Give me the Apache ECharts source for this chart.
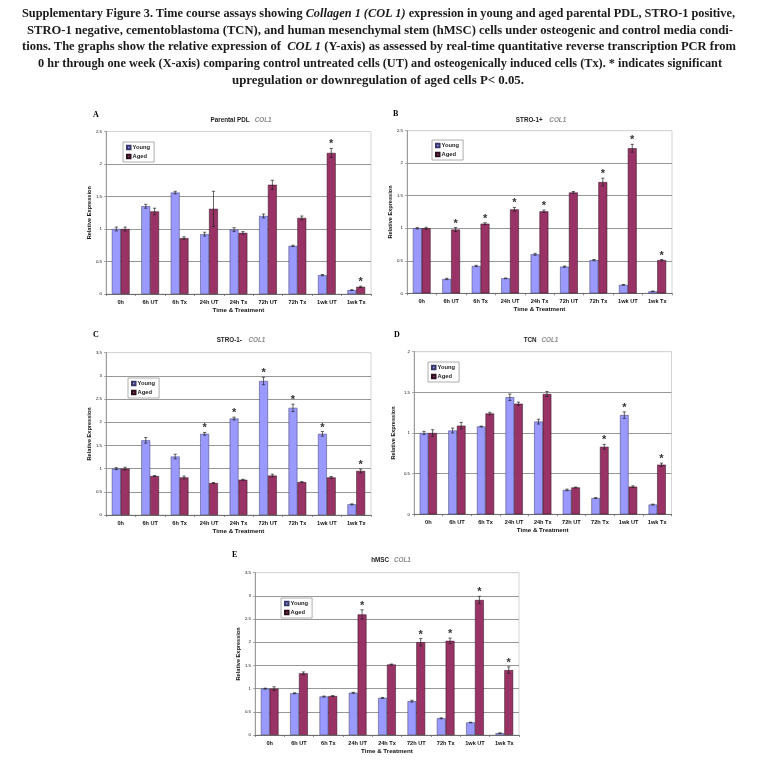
<!DOCTYPE html>
<html>
<head>
<meta charset="utf-8">
<script src="https://cdn.jsdelivr.net/npm/echarts@6/dist/echarts.min.js"></script>
<style>
html,body{margin:0;padding:0;background:#fff;}
#chart{position:absolute;left:0;top:0;width:758px;height:768px;}
.cap{position:absolute;white-space:nowrap;font-family:"Liberation Serif","DejaVu Serif",serif;font-weight:bold;font-size:12.5px;color:#1a1a1a;transform-origin:0 50%;line-height:14px;}
</style>
</head>
<body>
<div id="chart"></div>
<div class="cap" data-x0="22" data-x1="735" data-y="13">Supplementary Figure 3. Time course assays showing <i>Collagen 1 (COL 1)</i> expression in young and aged parental PDL, STRO-1 positive,</div>
<div class="cap" data-x0="27" data-x1="733" data-y="30">STRO-1 negative, cementoblastoma (TCN), and human mesenchymal stem (hMSC) cells under osteogenic and control media condi-</div>
<div class="cap" data-x0="22" data-x1="736" data-y="46">tions. The graphs show the relative expression of &nbsp;<i>COL 1</i> (Y-axis) as assessed by real-time quantitative reverse transcription PCR from</div>
<div class="cap" data-x0="38" data-x1="722" data-y="63">0 hr through one week (X-axis) comparing control untreated cells (UT) and osteogenically induced cells (Tx). * indicates significant</div>
<div class="cap" data-x0="232" data-x1="524" data-y="80">upregulation or downregulation of aged cells P&lt; 0.05.</div>
<script>
// ---------- DATA ----------
const categories = ['0h','6h UT','6h Tx','24h UT','24h Tx','72h UT','72h Tx','1wk UT','1wk Tx'];
const seriesNames = ['Young','Aged'];
const panelLetters = ['A','B','C','D','E'];
const panelTitles = ['Parental PDL','STRO-1+ ','STRO-1- ','TCN','hMSC'];
const geneLabel = 'COL1';
const yMaxes = [2.5, 2.5, 3.5, 2, 3.5];

const youngA = [1.00,1.35,1.56,0.92,0.99,1.20,0.74,0.29,0.06];
const agedA  = [1.00,1.27,0.86,1.31,0.94,1.68,1.17,2.17,0.11];
const youngErrA = [0.03,0.03,0.02,0.03,0.03,0.03,0.01,0.01,0.005];
const agedErrA  = [0.03,0.05,0.02,0.27,0.02,0.07,0.03,0.07,0.01];
const youngSigA = [0,0,0,0,0,0,0,0,0];
const agedSigA  = [0,0,0,0,0,0,0,1,1];

const youngB = [1.00,0.22,0.42,0.23,0.60,0.41,0.51,0.13,0.03];
const agedB  = [1.00,0.98,1.07,1.29,1.26,1.55,1.71,2.23,0.51];
const youngErrB = [0.01,0.01,0.01,0.005,0.015,0.01,0.01,0.005,0.005];
const agedErrB  = [0.015,0.03,0.015,0.03,0.02,0.015,0.06,0.06,0.01];
const youngSigB = [0,0,0,0,0,0,0,0,0];
const agedSigB  = [0,1,1,1,1,0,1,1,1];

const youngC = [1.00,1.61,1.26,1.75,2.08,2.89,2.31,1.75,0.23];
const agedC  = [1.00,0.84,0.81,0.69,0.76,0.85,0.71,0.81,0.95];
const youngErrC = [0.02,0.06,0.05,0.03,0.03,0.08,0.08,0.05,0.01];
const agedErrC  = [0.03,0.01,0.03,0.01,0.01,0.03,0.01,0.02,0.04];
const youngSigC = [0,0,0,1,1,1,1,1,0];
const agedSigC  = [0,0,0,0,0,0,0,0,1];

const youngD = [1.00,1.03,1.08,1.44,1.14,0.30,0.20,1.22,0.12];
const agedD  = [1.00,1.09,1.24,1.36,1.48,0.33,0.83,0.34,0.61];
const youngErrD = [0.02,0.03,0.005,0.04,0.03,0.01,0.005,0.04,0.005];
const agedErrD  = [0.04,0.04,0.015,0.02,0.03,0.005,0.03,0.01,0.02];
const youngSigD = [0,0,0,0,0,0,0,1,0];
const agedSigD  = [0,0,0,0,0,0,1,0,1];

const youngE = [1.00,0.90,0.83,0.91,0.80,0.73,0.36,0.27,0.04];
const agedE  = [1.00,1.33,0.84,2.60,1.52,2.00,2.03,2.91,1.40];
const youngErrE = [0.01,0.01,0.01,0.01,0.01,0.02,0.01,0.005,0.005];
const agedErrE  = [0.04,0.03,0.01,0.10,0.01,0.08,0.06,0.08,0.07];
const youngSigE = [0,0,0,0,0,0,0,0,0];
const agedSigE  = [0,0,0,1,0,1,1,1,1];

const panels = [
  {y:youngA,a:agedA,ye:youngErrA,ae:agedErrA,ys:youngSigA,as:agedSigA},
  {y:youngB,a:agedB,ye:youngErrB,ae:agedErrB,ys:youngSigB,as:agedSigB},
  {y:youngC,a:agedC,ye:youngErrC,ae:agedErrC,ys:youngSigC,as:agedSigC},
  {y:youngD,a:agedD,ye:youngErrD,ae:agedErrD,ys:youngSigD,as:agedSigD},
  {y:youngE,a:agedE,ye:youngErrE,ae:agedErrE,ys:youngSigE,as:agedSigE}
];

// ---------- LAYOUT ----------
const grids = [
  {left:106, top:131.5, width:265, height:162.5},
  {left:407, top:130.7, width:265, height:162.6},
  {left:106, top:352.7, width:265, height:162.3},
  {left:414, top:351.7, width:257.5, height:162.6},
  {left:255, top:572.7, width:264, height:162.3}
];
const letterPos = [[93,111],[393,110],[93,331],[394,331],[232,551]];
const titleCenter = [[241,111],[541,111],[241,331],[541,331],[391,551]];
const legendPos = [[123,142],[432,140],[128,378],[428,362],[281,598]];
const yNameGap = [14,14,14,18,13];

const FONT = '"Liberation Sans", Arial, sans-serif';
const youngColor = '#9999FF';
const agedColor = '#993366';

function errRender(sign){
  return function(params, api){
    const i = api.value(0), v = api.value(1), e = api.value(2), s = api.value(3);
    const band = api.size([1,0])[0];
    const x = api.coord([i,0])[0] + sign*band*0.15;
    const yt = api.coord([i,v+e])[1];
    const yb = api.coord([i,Math.max(0,v-e)])[1];
    const c = 1.6;
    const st = {stroke:'#222', lineWidth:0.7};
    const children = [
      {type:'line', shape:{x1:x,y1:yt,x2:x,y2:yb}, style:st},
      {type:'line', shape:{x1:x-c,y1:yt,x2:x+c,y2:yt}, style:st},
      {type:'line', shape:{x1:x-c,y1:yb,x2:x+c,y2:yb}, style:st}
    ];
    if (s) {
      children.push({type:'text', style:{text:'*', x:x, y:yt-4, align:'center', verticalAlign:'middle', textAlign:'center', textVerticalAlign:'middle', font:'bold 11px '+FONT, fill:'#333'}});
    }
    return {type:'group', children:children};
  };
}

const option = {
  animation:false,
  backgroundColor:'#fff',
  title:[], legend:[], grid:[], xAxis:[], yAxis:[], series:[]
};

panels.forEach(function(p, k){
  const g = grids[k];
  option.grid.push({left:g.left, top:g.top, width:g.width, height:g.height, show:true, borderColor:'#d4d4d4', borderWidth:1, containLabel:false});
  option.title.push({text:panelLetters[k], left:letterPos[k][0], top:letterPos[k][1], padding:0,
    textStyle:{fontFamily:'"Liberation Serif", serif', fontWeight:'bold', fontSize:8, color:'#000'}});
  option.title.push({text:'{a|'+panelTitles[k]+'} {b|'+geneLabel+'}', left:titleCenter[k][0], top:titleCenter[k][1], textAlign:'center', padding:0,
    textStyle:{rich:{a:{fontFamily:FONT, fontWeight:'bold', fontSize:6.3, color:'#222'}, b:{fontFamily:FONT, fontStyle:'italic', fontSize:6.3, color:'#888'}}}});
  option.legend.push({orient:'vertical', left:legendPos[k][0], top:legendPos[k][1], data:seriesNames,
    itemWidth:3.5, itemHeight:3.5, itemGap:3, padding:[2.5,4,2.5,3], borderColor:'#999', borderWidth:0.8, backgroundColor:'#fff',
    icon:'rect', textStyle:{fontFamily:FONT, fontSize:5.8, fontWeight:'bold', color:'#222', padding:[0,0,0,-3]}, selectedMode:false});
  const nLines = Math.round(yMaxes[k]/0.5)+1;
  const lineColors = [];
  for (let j=0;j<nLines;j++) lineColors.push(j===nLines-1 ? '#d4d4d4' : '#8c8c8c');
  option.xAxis.push({type:'category', gridIndex:k, data:categories,
    name:'Time & Treatment', nameLocation:'middle', nameGap:13,
    nameTextStyle:{fontFamily:FONT, fontWeight:'bold', fontSize:6.2, color:'#111'},
    axisLine:{lineStyle:{color:'#666', width:0.8}},
    axisTick:{show:true, length:2, lineStyle:{color:'#666', width:0.7}},
    axisLabel:{fontFamily:FONT, fontWeight:'bold', fontSize:5.6, color:'#111', margin:5, interval:0}});
  option.yAxis.push({type:'value', gridIndex:k, min:0, max:yMaxes[k], interval:0.5,
    name:'Relative Expression', nameLocation:'middle', nameGap:yNameGap[k],
    nameTextStyle:{fontFamily:FONT, fontWeight:'bold', fontSize:5.6, color:'#111'},
    axisLine:{show:true, lineStyle:{color:'#888', width:0.8}},
    axisTick:{show:true, length:2, lineStyle:{color:'#888', width:0.7}},
    axisLabel:{fontFamily:FONT, fontSize:4.4, color:'#111', margin:4, formatter:function(v){return String(Math.round(v*10)/10);}},
    splitLine:{show:true, lineStyle:{color:lineColors, width:0.9}}});
  option.series.push({type:'bar', name:'Young', xAxisIndex:k, yAxisIndex:k, data:p.y,
    barGap:'0%', barCategoryGap:'40%', itemStyle:{color:youngColor, borderColor:'#3a3a6a', borderWidth:0.5}, z:2});
  option.series.push({type:'bar', name:'Aged', xAxisIndex:k, yAxisIndex:k, data:p.a,
    barGap:'0%', barCategoryGap:'40%', itemStyle:{color:agedColor, borderColor:'#2a0f1c', borderWidth:0.5}, z:2});
  option.series.push({type:'custom', name:'errY'+k, xAxisIndex:k, yAxisIndex:k, renderItem:errRender(-1), z:5,
    encode:{x:0, y:1}, data:p.y.map(function(v,i){return [i, v, p.ye[i], p.ys[i]];})});
  option.series.push({type:'custom', name:'errA'+k, xAxisIndex:k, yAxisIndex:k, renderItem:errRender(1), z:5,
    encode:{x:0, y:1}, data:p.a.map(function(v,i){return [i, v, p.ae[i], p.as[i]];})});
});

const chart = echarts.init(document.getElementById('chart'), null, {renderer:'canvas'});
chart.setOption(option);

// fit caption lines to their measured extents
document.querySelectorAll('.cap').forEach(function(el){
  const x0 = +el.dataset.x0, x1 = +el.dataset.x1, y = +el.dataset.y;
  const w = el.getBoundingClientRect().width;
  el.style.left = x0 + 'px';
  el.style.top = (y - 7) + 'px';
  el.style.transform = 'scaleX(' + ((x1 - x0) / w) + ')';
});
</script>
</body>
</html>
